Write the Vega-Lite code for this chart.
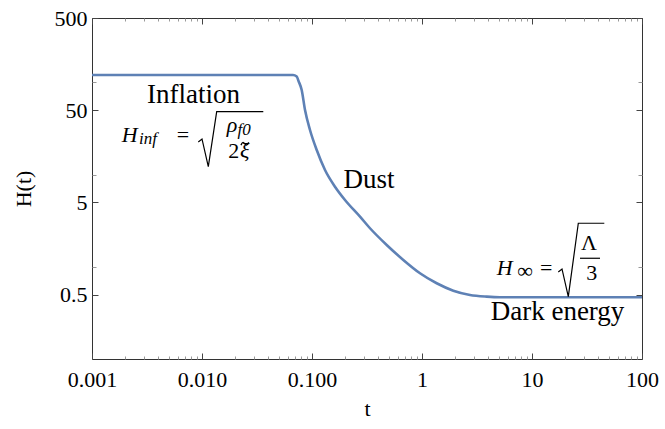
{
  "$schema": "https://vega.github.io/schema/vega-lite/v6.json",
  "width": 550,
  "height": 341,
  "autosize": {"type": "none"},
  "padding": {"left": 92, "top": 18, "right": 23, "bottom": 70},
  "background": "white",
  "config": {
    "view": {"stroke": "#333", "strokeWidth": 1},
    "font": "Liberation Serif",
    "axis": {"grid": false, "domain": false, "labelFont": "Liberation Serif", "titleFont": "Liberation Serif", "labelColor": "black", "titleColor": "black", "labelFontSize": 22, "titleFontSize": 22, "titleFontWeight": "normal", "tickColor": "#444", "labelFlush": false, "labelOverlap": false}
  },
  "resolve": {"axis": {"x": "independent", "y": "independent"}},
  "datasets": {
    "curve": [
      {"t": 0.001, "H": 120.5}, {"t": 0.01, "H": 120.5}, {"t": 0.05, "H": 120.5}, {"t": 0.0672, "H": 120.5},
      {"t": 0.0726, "H": 116}, {"t": 0.0754, "H": 103.7}, {"t": 0.0806, "H": 82.8}, {"t": 0.0864, "H": 50.2},
      {"t": 0.0959, "H": 30.5}, {"t": 0.1104, "H": 18.5}, {"t": 0.1313, "H": 11.23}, {"t": 0.1618, "H": 7.4},
      {"t": 0.1995, "H": 5.31}, {"t": 0.2732, "H": 3.5}, {"t": 0.3367, "H": 2.62}, {"t": 0.4776, "H": 1.726},
      {"t": 0.6761, "H": 1.187}, {"t": 0.959, "H": 0.851}, {"t": 1.36, "H": 0.663}, {"t": 1.926, "H": 0.551},
      {"t": 2.732, "H": 0.495}, {"t": 3.875, "H": 0.4745}, {"t": 5.118, "H": 0.4674}, {"t": 10, "H": 0.467},
      {"t": 100, "H": 0.467}
    ]
  },
  "layer": [
    {
      "data": {"name": "curve"},
      "mark": {"type": "line", "color": "#5E81B5", "strokeWidth": 2.6, "interpolate": "monotone", "clip": true},
      "encoding": {
        "x": {"field": "t", "type": "quantitative", "scale": {"type": "log", "domain": [0.001, 100], "nice": false},
          "axis": {"orient": "bottom", "values": [0.001, 0.01, 0.1, 1, 10, 100], "labelExpr": "datum.value < 0.5 ? format(datum.value, '.3f') : format(datum.value, 'd')", "tickSize": -6, "labelPadding": 16, "title": "t", "titleY": 49, "titleBaseline": "middle"}},
        "y": {"field": "H", "type": "quantitative", "scale": {"type": "log", "domain": [0.1, 500], "nice": false},
          "axis": {"orient": "left", "values": [0.5, 5, 50, 500], "labelExpr": "format(datum.value, '~g')", "tickSize": -6, "labelPadding": 11, "title": "H(t)", "titleX": -69, "titleBaseline": "middle"}}
      }
    },
    {
      "data": {"name": "curve"},
      "mark": {"type": "line", "opacity": 0},
      "encoding": {
        "x": {"field": "t", "type": "quantitative", "scale": {"type": "log", "domain": [0.001, 100], "nice": false},
          "axis": {"orient": "bottom", "values": [0.002,0.003,0.004,0.005,0.006,0.007,0.008,0.009,0.02,0.03,0.04,0.05,0.06,0.07,0.08,0.09,0.2,0.3,0.4,0.5,0.6,0.7,0.8,0.9,2,3,4,5,6,7,8,9,20,30,40,50,60,70,80,90], "labels": false, "tickSize": -3, "tickColor": "#999", "title": null}},
        "y": {"field": "H", "type": "quantitative", "scale": {"type": "log", "domain": [0.1, 500], "nice": false},
          "axis": {"orient": "left", "values": [1, 10, 100], "labels": false, "tickSize": -4, "tickColor": "#999", "title": null}}
      }
    },
    {
      "data": {"name": "curve"},
      "mark": {"type": "line", "opacity": 0},
      "encoding": {
        "x": {"field": "t", "type": "quantitative", "scale": {"type": "log", "domain": [0.001, 100], "nice": false},
          "axis": {"orient": "top", "values": [0.001, 0.01, 0.1, 1, 10, 100], "labels": false, "tickSize": -6, "title": null}},
        "y": {"field": "H", "type": "quantitative", "scale": {"type": "log", "domain": [0.1, 500], "nice": false},
          "axis": {"orient": "right", "values": [0.5, 5, 50, 500], "labels": false, "tickSize": -6, "title": null}}
      }
    },
    {
      "data": {"name": "curve"},
      "mark": {"type": "line", "opacity": 0},
      "encoding": {
        "x": {"field": "t", "type": "quantitative", "scale": {"type": "log", "domain": [0.001, 100], "nice": false},
          "axis": {"orient": "top", "values": [0.002,0.003,0.004,0.005,0.006,0.007,0.008,0.009,0.02,0.03,0.04,0.05,0.06,0.07,0.08,0.09,0.2,0.3,0.4,0.5,0.6,0.7,0.8,0.9,2,3,4,5,6,7,8,9,20,30,40,50,60,70,80,90], "labels": false, "tickSize": -3, "tickColor": "#999", "title": null}},
        "y": {"field": "H", "type": "quantitative", "scale": {"type": "log", "domain": [0.1, 500], "nice": false},
          "axis": {"orient": "right", "values": [1, 10, 100], "labels": false, "tickSize": -4, "tickColor": "#999", "title": null}}
      }
    },
    {
      "data": {"values": [
        {"t": 0.008372, "H": 59.84, "label": "Inflation"},
        {"t": 0.3298, "H": 7.111, "label": "Dust"},
        {"t": 17.06, "H": 0.2652, "label": "Dark energy"}
      ]},
      "mark": {"type": "text", "fontSize": 27, "align": "center", "baseline": "alphabetic", "color": "black", "font": "Liberation Serif"},
      "encoding": {
        "x": {"field": "t", "type": "quantitative", "scale": {"type": "log", "domain": [0.001, 100], "nice": false}, "axis": null},
        "y": {"field": "H", "type": "quantitative", "scale": {"type": "log", "domain": [0.1, 500], "nice": false}, "axis": null},
        "text": {"field": "label"}
      }
    },
    {
      "data": {"values": [
        {"t": 0.001862, "H": 22.78, "label": "H"},
        {"t": 0.01677, "H": 29.23, "label": "ρ"},
        {"t": 0.02215, "H": 15.04, "label": "ξ"},
        {"t": 4.776, "H": 0.8158, "label": "H"}
      ]},
      "mark": {"type": "text", "fontSize": 22, "fontStyle": "italic", "align": "left", "baseline": "alphabetic", "color": "black", "font": "Liberation Serif"},
      "encoding": {
        "x": {"field": "t", "type": "quantitative", "scale": {"type": "log", "domain": [0.001, 100], "nice": false}, "axis": null},
        "y": {"field": "H", "type": "quantitative", "scale": {"type": "log", "domain": [0.1, 500], "nice": false}, "axis": null},
        "text": {"field": "label"}
      }
    },
    {
      "data": {"values": [
        {"t": 0.005888, "H": 22.78, "label": "="},
        {"t": 0.01734, "H": 15.04, "label": "2"},
        {"t": 11.82, "H": 0.8158, "label": "="}
      ]},
      "mark": {"type": "text", "fontSize": 22, "align": "left", "baseline": "alphabetic", "color": "black", "font": "Liberation Serif"},
      "encoding": {
        "x": {"field": "t", "type": "quantitative", "scale": {"type": "log", "domain": [0.001, 100], "nice": false}, "axis": null},
        "y": {"field": "H", "type": "quantitative", "scale": {"type": "log", "domain": [0.1, 500], "nice": false}, "axis": null},
        "text": {"field": "label"}
      }
    },
    {
      "data": {"values": [
        {"t": 32.97, "H": 1.523, "label": "Λ"},
        {"t": 34.89, "H": 0.7201, "label": "3"},
        {"t": 8.639, "H": 0.7513, "label": "∞"}
      ]},
      "mark": {"type": "text", "fontSize": 22, "align": "center", "baseline": "alphabetic", "color": "black", "font": "Liberation Serif"},
      "encoding": {
        "x": {"field": "t", "type": "quantitative", "scale": {"type": "log", "domain": [0.001, 100], "nice": false}, "axis": null},
        "y": {"field": "H", "type": "quantitative", "scale": {"type": "log", "domain": [0.1, 500], "nice": false}, "axis": null},
        "text": {"field": "label"}
      }
    },
    {
      "data": {"values": [
        {"t": 0.002675, "H": 21.34, "label": "inf"},
        {"t": 0.02102, "H": 26.92, "label": "f0"}
      ]},
      "mark": {"type": "text", "fontSize": 17, "fontStyle": "italic", "align": "left", "baseline": "alphabetic", "color": "black", "font": "Liberation Serif"},
      "encoding": {
        "x": {"field": "t", "type": "quantitative", "scale": {"type": "log", "domain": [0.001, 100], "nice": false}, "axis": null},
        "y": {"field": "H", "type": "quantitative", "scale": {"type": "log", "domain": [0.1, 500], "nice": false}, "axis": null},
        "text": {"field": "label"}
      }
    },
    {
      "data": {"values": [
        {"piece": "r1", "ord": 1, "t": 0.009255, "H": 22.6},
        {"piece": "r1", "ord": 2, "t": 0.01, "H": 24.36},
        {"piece": "r1", "ord": 3, "t": 0.01141, "H": 12.2},
        {"piece": "r1", "ord": 4, "t": 0.0136, "H": 48.16},
        {"piece": "r1", "ord": 5, "t": 0.03607, "H": 48.16},
        {"piece": "r2", "ord": 1, "t": 17.34, "H": 0.8792},
        {"piece": "r2", "ord": 2, "t": 18.74, "H": 0.9478},
        {"piece": "r2", "ord": 3, "t": 21.38, "H": 0.4745},
        {"piece": "r2", "ord": 4, "t": 26.36, "H": 2.967},
        {"piece": "r2", "ord": 5, "t": 45.43, "H": 2.967},
        {"piece": "b2", "ord": 1, "t": 27.32, "H": 1.238},
        {"piece": "b2", "ord": 2, "t": 41.51, "H": 1.238}
      ]},
      "mark": {"type": "line", "color": "black", "strokeWidth": 1.2},
      "encoding": {
        "x": {"field": "t", "type": "quantitative", "scale": {"type": "log", "domain": [0.001, 100], "nice": false}, "axis": null},
        "y": {"field": "H", "type": "quantitative", "scale": {"type": "log", "domain": [0.1, 500], "nice": false}, "axis": null},
        "detail": {"field": "piece"},
        "order": {"field": "ord", "type": "quantitative"}
      }
    },
    {
      "data": {"values": [
        {"t": 0.0226, "H": 20.9},
        {"t": 0.0236, "H": 22.4},
        {"t": 0.0254, "H": 20.9},
        {"t": 0.0266, "H": 22.4}
      ]},
      "mark": {"type": "line", "color": "black", "strokeWidth": 1.4, "interpolate": "monotone"},
      "encoding": {
        "x": {"field": "t", "type": "quantitative", "scale": {"type": "log", "domain": [0.001, 100], "nice": false}, "axis": null},
        "y": {"field": "H", "type": "quantitative", "scale": {"type": "log", "domain": [0.1, 500], "nice": false}, "axis": null}
      }
    }
  ]
}
